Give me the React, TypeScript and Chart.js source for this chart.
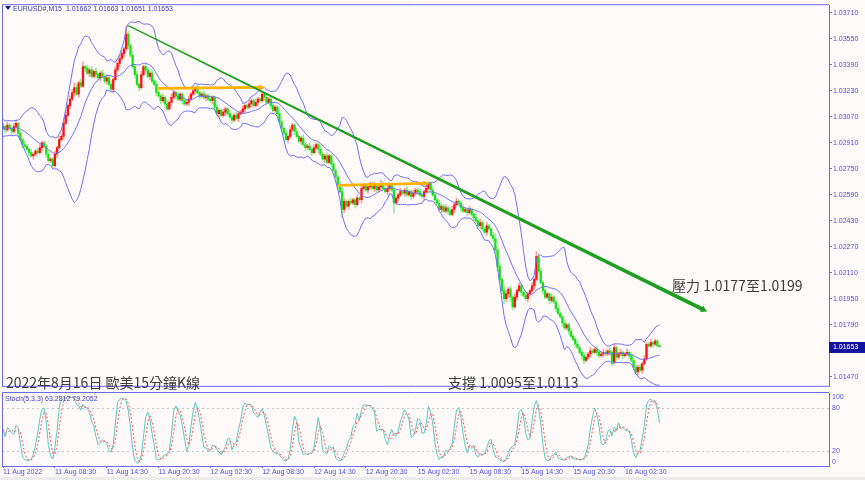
import React, { useEffect, useRef } from "react";
import { Chart, registerables } from "chart.js";

Chart.register(...registerables);

// ---------------- text ----------------
const HEADER_TEXT = "EURUSD#,M15  1.01662 1.01663 1.01651 1.01653";
const STOCH_TEXT = "Stoch(5,3,3) 63.2812 79.2052";
const TITLE_TEXT = "2022年8月16日 歐美15分鐘K線";
const SUPPORT_TEXT = "支撐 1.0095至1.0113";
const RESIST_TEXT = "壓力 1.0177至1.0199";

// ---------------- axes ----------------
const TIME_TICKS = [
  "11 Aug 2022", "11 Aug 08:30", "11 Aug 14:30", "11 Aug 20:30",
  "12 Aug 02:30", "12 Aug 08:30", "12 Aug 14:30", "12 Aug 20:30",
  "15 Aug 02:30", "15 Aug 08:30", "15 Aug 14:30", "15 Aug 20:30",
  "16 Aug 02:30",
];
const BARS_PER_TICK = 24;
const SLOT_COUNT = 383; // visible bar slots incl. right shift
const PRICE_TICKS = [
  1.0147, 1.0163, 1.0179, 1.0195, 1.0211, 1.0227, 1.0243, 1.0259,
  1.0275, 1.0291, 1.0307, 1.0323, 1.0339, 1.0355, 1.0371,
];
const PRICE_MIN = 1.01408;
const PRICE_MAX = 1.03758;
const STOCH_LEVELS = [20, 80];
const STOCH_AXIS_LABELS = [100, 80, 20, 0];
const LAST_PRICE = 1.01653;
const BAND_PERIOD = 14;
const BAND_DEVIATION = 2.7;

// ---------------- price data (pips above 1.0000) ----------------
const FIRST_OPEN = 300;
const PRE_CLOSE_PIPS = [302, 299, 303, 300, 297, 301, 304, 299, 298, 302, 300, 297, 301, 303, 299, 298, 302, 300, 299];
const CLOSE_PIPS = [
  301, 299, 302, 300, 298, 301, 303, 297, 293, 290, 289, 287, 285, 283, 284, 286, 285, 288, 291, 289,
  284, 280, 281, 277, 284, 288, 293, 295, 303, 308, 314, 318, 322, 325, 321, 328, 326, 338, 337, 334,
  336, 332, 335, 333, 331, 334, 332, 329, 331, 327, 324, 330, 336, 340, 343, 346, 349, 358, 351, 345,
  338, 333, 327, 325, 333, 338, 336, 332, 334, 329, 327, 322, 320, 317, 319, 315, 312, 316, 319, 322,
  320, 318, 321, 317, 315, 316, 318, 321, 323, 325, 322, 320, 321, 319, 320, 318, 317, 319, 313, 309,
  311, 308, 310, 312, 309, 307, 305, 308, 306, 309, 310, 312, 314, 313, 315, 317, 314, 316, 318, 317,
  321, 319, 316, 318, 314, 311, 313, 309, 304, 300, 297, 293, 295, 299, 302, 298, 295, 292, 294, 290,
  288, 289, 287, 285, 288, 290, 287, 284, 281, 283, 279, 283, 278, 274, 270, 265, 261, 250, 255, 252,
  255, 254, 256, 253, 257, 256, 263, 265, 262, 264, 266, 263, 265, 262, 264, 266, 263, 261, 263, 265,
  262, 254, 257, 259, 261, 260, 262, 259, 261, 258, 260, 262, 261, 259, 258, 261, 263, 266, 262, 259,
  256, 254, 250, 252, 249, 251, 249, 247, 250, 253, 255, 254, 251, 249, 250, 248, 250, 247, 245, 243,
  240, 242, 238, 236, 240, 238, 234, 232, 225, 215, 207, 200, 195, 198, 201, 196, 190, 196, 200, 203,
  199, 197, 195, 198, 200, 203, 207, 221, 212, 205, 200, 196, 198, 194, 196, 193, 189, 186, 184, 180,
  177, 179, 175, 172, 170, 167, 165, 162, 160, 157, 159, 161, 163, 162, 164, 162, 160, 161, 162, 161,
  163, 162, 156, 165, 159, 161, 162, 160, 161, 162, 160, 157, 153, 150, 153, 151, 155, 158, 167, 166,
  168, 167, 169, 166.2, 165.3,
];
const UPPER_WICK = [
  2, 1, 2, 1, 1, 2, 2, 1, 1, 1, 2, 1, 1, 2, 1, 1, 2, 2, 1, 1,
  1, 2, 1, 1, 2, 1, 2, 2, 1, 2, 1, 2, 2, 3, 2, 1, 2, 3, 1, 2,
  1, 2, 1, 2, 1, 1, 2, 1, 2, 1, 2, 1, 2, 1, 2, 2, 1, 5, 2, 1,
  2, 1, 2, 1, 2, 1, 2, 1, 1, 2, 1, 2, 1, 1, 2, 1, 2, 1, 2, 1,
  1, 2, 1, 1, 2, 1, 2, 1, 2, 1, 2, 1, 1, 2, 1, 1, 2, 1, 1, 2,
  1, 1, 2, 1, 1, 2, 1, 1, 2, 1, 1, 2, 1, 1, 2, 1, 1, 2, 1, 1,
  2, 1, 2, 1, 1, 2, 1, 1, 2, 1, 1, 2, 1, 2, 1, 1, 2, 1, 1, 2,
  1, 1, 2, 1, 2, 1, 1, 2, 1, 1, 2, 1, 1, 2, 1, 1, 2, 3, 2, 1,
  1, 2, 1, 1, 2, 1, 2, 1, 1, 2, 1, 1, 2, 1, 1, 2, 1, 1, 2, 1,
  1, 2, 1, 1, 2, 1, 1, 2, 1, 1, 2, 1, 1, 2, 1, 1, 2, 1, 1, 2,
  1, 1, 2, 1, 1, 2, 1, 1, 2, 1, 2, 1, 1, 2, 1, 1, 2, 1, 1, 2,
  1, 2, 1, 1, 2, 1, 1, 2, 3, 2, 2, 1, 3, 2, 1, 2, 1, 2, 1, 2,
  1, 1, 2, 1, 1, 2, 1, 3, 2, 2, 1, 2, 1, 1, 2, 1, 1, 2, 1, 1,
  2, 1, 1, 2, 1, 1, 2, 1, 1, 2, 1, 1, 2, 1, 1, 2, 1, 1, 2, 1,
  1, 2, 1, 2, 1, 1, 2, 1, 1, 2, 1, 1, 2, 1, 1, 2, 1, 2, 1, 1,
  2, 1, 1, 1, 0.1,
];
const LOWER_WICK = [
  1, 2, 1, 1, 2, 1, 1, 2, 1, 2, 1, 1, 2, 1, 2, 1, 1, 1, 2, 1,
  2, 1, 1, 1, 1, 2, 1, 1, 2, 1, 1, 2, 1, 2, 1, 2, 1, 1, 2, 1,
  2, 1, 1, 2, 1, 2, 1, 1, 2, 1, 1, 2, 1, 1, 2, 1, 2, 1, 2, 1,
  1, 2, 1, 2, 1, 1, 2, 1, 2, 1, 1, 2, 1, 2, 1, 2, 1, 1, 2, 1,
  2, 1, 1, 2, 1, 1, 2, 1, 1, 2, 1, 2, 1, 1, 2, 1, 1, 2, 2, 1,
  2, 1, 1, 2, 1, 1, 2, 1, 1, 2, 1, 1, 2, 1, 1, 2, 1, 1, 2, 1,
  1, 2, 1, 1, 2, 1, 1, 2, 1, 2, 1, 1, 2, 1, 1, 2, 1, 1, 2, 1,
  2, 1, 1, 2, 1, 1, 2, 1, 1, 2, 1, 1, 2, 1, 1, 2, 1, 5, 2, 1,
  2, 1, 1, 2, 1, 1, 2, 1, 1, 2, 1, 1, 2, 1, 1, 2, 1, 1, 2, 1,
  1, 6, 1, 2, 1, 1, 2, 1, 1, 2, 1, 1, 2, 1, 1, 2, 1, 1, 2, 1,
  2, 1, 1, 2, 1, 1, 2, 1, 1, 2, 1, 1, 2, 1, 1, 2, 1, 1, 2, 1,
  1, 2, 1, 1, 2, 1, 1, 2, 2, 3, 2, 2, 3, 2, 2, 3, 2, 1, 2, 1,
  2, 1, 1, 2, 1, 1, 2, 1, 2, 1, 2, 1, 1, 2, 1, 1, 2, 1, 1, 2,
  1, 1, 2, 1, 1, 2, 1, 1, 2, 2, 1, 1, 2, 1, 1, 2, 1, 1, 2, 1,
  1, 2, 2, 1, 2, 1, 1, 2, 1, 1, 2, 1, 2, 1, 2, 1, 2, 1, 1, 1,
  1, 2, 1, 1, 0.2,
];

// drawn annotations in data coordinates: [bar index, price]
const TREND_LINE = { from: [58, 1.03632], to: [326, 1.01872] };
const LEVEL_ARROWS = [
  { from: [71.3, 1.03246], to: [121.3, 1.03252] },
  { from: [155.2, 1.02649], to: [197.4, 1.02661] },
];

// ---------------- style ----------------
const BG = "#fffafa";
const AXIS = "#6a6ae8";
const AXIS_TEXT = "#5050d8";
const BAND = "#7070f0";
const UP_BODY = "#ff1010";
const UP_WICK = "#ff9c9c";
const DOWN_BODY = "#18e018";
const DOWN_WICK = "#96ee96";
const FONT = "'Liberation Sans', Arial, sans-serif";
const CJK = "'Noto Sans CJK TC', 'Noto Sans CJK SC', sans-serif";

// ---------------- derived series ----------------
const toPrice = (p: number) => 1 + p / 10000;
const ohlc = CLOSE_PIPS.map((c, i) => {
  const o = i === 0 ? FIRST_OPEN : CLOSE_PIPS[i - 1];
  const h = Math.max(o, c) + UPPER_WICK[i];
  const l = Math.min(o, c) - LOWER_WICK[i];
  return { o: toPrice(o), h: toPrice(h), l: toPrice(l), c: toPrice(c) };
});

function bollinger(period: number, dev: number) {
  const all = PRE_CLOSE_PIPS.concat(CLOSE_PIPS).map(toPrice);
  const off = PRE_CLOSE_PIPS.length;
  const up: number[] = [], mid: number[] = [], lo: number[] = [];
  for (let i = 0; i < CLOSE_PIPS.length; i++) {
    const end = i + off;
    const start = Math.max(0, end - period + 1);
    const w = all.slice(start, end + 1);
    const m = w.reduce((a, b) => a + b, 0) / w.length;
    const sd = Math.sqrt(w.reduce((a, b) => a + (b - m) * (b - m), 0) / w.length);
    mid.push(m); up.push(m + dev * sd); lo.push(m - dev * sd);
  }
  return { up, mid, lo };
}

function stochastic(kP: number, slow: number, dP: number) {
  const n = ohlc.length;
  const num: number[] = [], den: number[] = [], K: number[] = [], D: number[] = [];
  for (let i = 0; i < n; i++) {
    let lo = Infinity, hi = -Infinity;
    for (let j = Math.max(0, i - kP + 1); j <= i; j++) { lo = Math.min(lo, ohlc[j].l); hi = Math.max(hi, ohlc[j].h); }
    num.push(ohlc[i].c - lo); den.push(hi - lo);
  }
  for (let i = 0; i < n; i++) {
    let a = 0, b = 0;
    for (let j = Math.max(0, i - slow + 1); j <= i; j++) { a += num[j]; b += den[j]; }
    K.push(b === 0 ? 50 : (100 * a) / b);
  }
  for (let i = 0; i < n; i++) {
    let s = 0, c = 0;
    for (let j = Math.max(0, i - dP + 1); j <= i; j++) { s += K[j]; c++; }
    D.push(s / c);
  }
  return { K, D };
}

function drawArrow(ctx: CanvasRenderingContext2D, x0: number, y0: number, x1: number, y1: number,
  w0: number, w1: number, headLen: number, headW: number, color: string) {
  const dx = x1 - x0, dy = y1 - y0, len = Math.hypot(dx, dy);
  const ux = dx / len, uy = dy / len, nx = -uy, ny = ux;
  const bx = x1 - ux * headLen, by = y1 - uy * headLen;
  ctx.save();
  ctx.fillStyle = color;
  ctx.beginPath();
  ctx.moveTo(x0 + (nx * w0) / 2, y0 + (ny * w0) / 2);
  ctx.lineTo(bx + (nx * w1) / 2, by + (ny * w1) / 2);
  ctx.lineTo(bx + (nx * headW) / 2, by + (ny * headW) / 2);
  ctx.lineTo(x1, y1);
  ctx.lineTo(bx - (nx * headW) / 2, by - (ny * headW) / 2);
  ctx.lineTo(bx - (nx * w1) / 2, by - (ny * w1) / 2);
  ctx.lineTo(x0 - (nx * w0) / 2, y0 - (ny * w0) / 2);
  ctx.closePath();
  ctx.fill();
  ctx.restore();
}

export default function App() {
  const mainRef = useRef<HTMLCanvasElement>(null);
  const stochRef = useRef<HTMLCanvasElement>(null);

  useEffect(() => {
    const bb = bollinger(BAND_PERIOD, BAND_DEVIATION);
    const st = stochastic(5, 3, 3);
    const xy = (arr: number[]) => arr.map((y, i) => ({ x: i, y }));

    const mainOverlay = {
      id: "mainOverlay",
      afterDraw(chart: any) {
        const { ctx, chartArea: a, scales } = chart;
        const xs = scales.x, ys = scales.y;
        ctx.save();
        ctx.strokeStyle = AXIS;
        ctx.lineWidth = 1;
        ctx.beginPath();
        ctx.moveTo(a.left + 0.5, a.bottom); ctx.lineTo(a.left + 0.5, a.top - 0.5);
        ctx.lineTo(a.right, a.top - 0.5);
        ctx.moveTo(a.left, a.bottom - 0.5); ctx.lineTo(a.right, a.bottom - 0.5);
        ctx.stroke();
        LEVEL_ARROWS.forEach((ar) => {
          drawArrow(ctx, xs.getPixelForValue(ar.from[0]), ys.getPixelForValue(ar.from[1]),
            xs.getPixelForValue(ar.to[0]), ys.getPixelForValue(ar.to[1]), 2.8, 2.8, 6, 6, "#ffb300");
        });
        drawArrow(ctx, xs.getPixelForValue(TREND_LINE.from[0]), ys.getPixelForValue(TREND_LINE.from[1]),
          xs.getPixelForValue(TREND_LINE.to[0]), ys.getPixelForValue(TREND_LINE.to[1]), 1.2, 4, 6, 7, "#1f9f1f");
        const py = Math.round(ys.getPixelForValue(LAST_PRICE));
        ctx.fillStyle = "#12129e";
        ctx.fillRect(a.right, py - 5, chart.width - a.right, 11);
        ctx.fillStyle = "#ffffff";
        ctx.font = `7px ${FONT}`;
        ctx.textBaseline = "middle";
        ctx.textAlign = "left";
        ctx.fillText(LAST_PRICE.toFixed(5), a.right + 4, py + 0.5);
        ctx.restore();
      },
    };

    const main = new Chart(mainRef.current as HTMLCanvasElement, {
      type: "bar",
      data: {
        datasets: [
          { type: "line", data: xy(bb.up), borderColor: BAND, borderWidth: 1, pointRadius: 0, order: 0 } as any,
          { type: "line", data: xy(bb.mid), borderColor: BAND, borderWidth: 1, pointRadius: 0, order: 0 } as any,
          { type: "line", data: xy(bb.lo), borderColor: BAND, borderWidth: 1, pointRadius: 0, order: 0 } as any,
          {
            type: "bar",
            data: ohlc.map((b, i) => ({ x: i, y: [b.o, b.c] })),
            backgroundColor: ohlc.map((b) => (b.c >= b.o ? UP_BODY : DOWN_BODY)),
            barThickness: 1.6, minBarLength: 1, grouped: false, order: 1,
          } as any,
          {
            type: "bar",
            data: ohlc.map((b, i) => ({ x: i, y: [b.l, b.h] })),
            backgroundColor: ohlc.map((b) => (b.c >= b.o ? UP_WICK : DOWN_WICK)),
            barThickness: 1, grouped: false, order: 2,
          } as any,
        ],
      },
      options: {
        animation: false,
        responsive: false,
        events: [],
        layout: { padding: { left: 2, top: 2, right: 0, bottom: 0 } },
        plugins: { legend: { display: false }, tooltip: { enabled: false } },
        scales: {
          x: { type: "linear", min: -0.5, max: SLOT_COUNT - 0.5, display: false, offset: false },
          y: {
            position: "right",
            min: PRICE_MIN,
            max: PRICE_MAX,
            afterFit: (s: any) => { s.width = 36; },
            afterBuildTicks: (s: any) => { s.ticks = PRICE_TICKS.map((v) => ({ value: v })); },
            ticks: {
              callback: (v: any) => Number(v).toFixed(5),
              font: { family: FONT, size: 7 },
              color: AXIS_TEXT,
              padding: 1,
            },
            grid: { drawOnChartArea: false, tickLength: 3, color: AXIS },
            border: { color: AXIS },
          },
        },
      } as any,
      plugins: [mainOverlay],
    });

    const stochOverlay = {
      id: "stochOverlay",
      beforeDatasetsDraw(chart: any) {
        const { ctx, chartArea: a, scales } = chart;
        ctx.save();
        ctx.strokeStyle = "#c4c4c4";
        ctx.lineWidth = 1;
        ctx.setLineDash([2, 3]);
        STOCH_LEVELS.forEach((lv) => {
          const y = Math.round(scales.y.getPixelForValue(lv)) + 0.5;
          ctx.beginPath(); ctx.moveTo(a.left, y); ctx.lineTo(a.right, y); ctx.stroke();
        });
        ctx.restore();
      },
      afterDraw(chart: any) {
        const { ctx, chartArea: a, scales } = chart;
        ctx.save();
        ctx.strokeStyle = AXIS;
        ctx.lineWidth = 1;
        ctx.beginPath();
        ctx.moveTo(a.left + 0.5, a.bottom); ctx.lineTo(a.left + 0.5, a.top - 0.5); ctx.lineTo(a.right, a.top - 0.5);
        ctx.stroke();
        ctx.fillStyle = AXIS_TEXT;
        ctx.font = `7px ${FONT}`;
        ctx.textBaseline = "middle";
        ctx.textAlign = "left";
        STOCH_AXIS_LABELS.forEach((lv) => {
          let y = scales.y.getPixelForValue(lv);
          y = Math.min(Math.max(y, a.top + 4), a.bottom - 4);
          ctx.fillText(String(lv), a.right + 3, y);
        });
        ctx.restore();
      },
    };

    const stoch = new Chart(stochRef.current as HTMLCanvasElement, {
      type: "line",
      data: {
        datasets: [
          { data: xy(st.K), borderColor: "#5cc6bf", borderWidth: 1, pointRadius: 0, order: 1 },
          { data: xy(st.D), borderColor: "#ff5050", borderWidth: 1, borderDash: [2, 2], pointRadius: 0, order: 0 },
        ],
      },
      options: {
        animation: false,
        responsive: false,
        events: [],
        layout: { padding: { left: 2, top: 1, right: 0, bottom: 0 } },
        plugins: { legend: { display: false }, tooltip: { enabled: false } },
        scales: {
          x: {
            type: "linear",
            min: -0.5,
            max: SLOT_COUNT - 0.5,
            offset: false,
            afterFit: (s: any) => { s.height = 14; },
            afterBuildTicks: (s: any) => { s.ticks = TIME_TICKS.map((_, k) => ({ value: k * BARS_PER_TICK })); },
            ticks: {
              callback: (v: any) => TIME_TICKS[Math.round(Number(v) / BARS_PER_TICK)] ?? "",
              align: "start",
              autoSkip: false,
              maxRotation: 0,
              font: { family: FONT, size: 7 },
              color: AXIS_TEXT,
              padding: 0,
            },
            grid: { drawOnChartArea: false, tickLength: 2, color: AXIS },
            border: { color: AXIS },
          },
          y: {
            position: "right",
            min: 0,
            max: 100,
            afterFit: (s: any) => { s.width = 36; },
            ticks: { display: false },
            grid: { drawOnChartArea: false, drawTicks: false },
            border: { color: AXIS },
          },
        },
      } as any,
      plugins: [stochOverlay],
    });

    return () => { main.destroy(); stoch.destroy(); };
  }, []);

  const small: React.CSSProperties = {
    position: "absolute", fontFamily: FONT, fontSize: 7, lineHeight: "9px", whiteSpace: "pre",
  };
  const big: React.CSSProperties = {
    position: "absolute", fontFamily: CJK, fontSize: 14, lineHeight: "16px", color: "#3c3c3c", whiteSpace: "pre",
  };

  return (
    <div style={{ position: "fixed", left: 0, top: 0, width: 865, height: 480, background: BG, overflow: "hidden" }}>
      <canvas ref={mainRef} width={865} height={392} style={{ position: "absolute", left: 0, top: 0 }} />
      <canvas ref={stochRef} width={865} height={88} style={{ position: "absolute", left: 0, top: 392 }} />
      <div style={{ position: "absolute", left: 5, top: 6, width: 0, height: 0,
        borderLeft: "3px solid transparent", borderRight: "3px solid transparent", borderTop: "4px solid #1a1a8a" }} />
      <div style={{ ...small, left: 13, top: 3.5, color: "#3a3ab0" }}>{HEADER_TEXT}</div>
      <div style={{ ...small, left: 5, top: 394, color: "#3a3ac0" }}>{STOCH_TEXT}</div>
      <div style={{ ...big, left: 6, top: 374 }}>{TITLE_TEXT}</div>
      <div style={{ ...big, left: 448, top: 374 }}>{SUPPORT_TEXT}</div>
      <div style={{ ...big, left: 672, top: 277 }}>{RESIST_TEXT}</div>
      <div style={{ position: "absolute", left: 0, top: 477, width: 865, height: 3, background: "#ececec" }} />
    </div>
  );
}
